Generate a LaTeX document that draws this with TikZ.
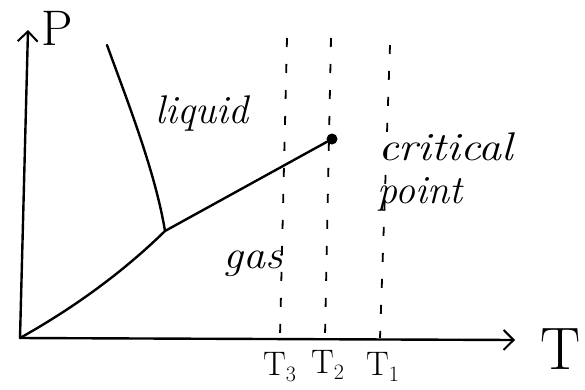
\documentclass[tikz,border=0pt]{standalone}
\usepackage{fontspec}
\usetikzlibrary{arrows.meta}
\newcommand{\tsub}[1]{\raisebox{-6pt}{\fontsize{22}{26}\selectfont #1}}
\begin{document}
\begin{tikzpicture}[x=1pt,y=-1pt,
  curve/.style={line width=2.4pt,line cap=round},
  axis/.style={line width=2.4pt,line cap=round,-{Straight Barb[length=10pt,width=20pt,line width=2pt]}},
  iso/.style={line width=1.8pt,dash pattern=on 9pt off 17pt},
  lab/.style={font=\fontsize{40}{44}\selectfont\itshape,inner sep=0pt,anchor=base west},
  tlab/.style={font=\fontsize{34}{38}\selectfont,inner sep=0pt,anchor=base west}]
\useasboundingbox (0,0) rectangle (585,389);
\coordinate (O) at (20,338);
\coordinate (Ptop) at (28,30);
\coordinate (Tend) at (515,340);
\coordinate (TP) at (165,231);
\coordinate (M) at (107,45);
\coordinate (T3a) at (287,38); \coordinate (T3b) at (280,336);
\coordinate (T2a) at (331,38); \coordinate (T2b) at (325,336);
\coordinate (T1a) at (390,45); \coordinate (T1b) at (380,338);
% axes
\draw[axis] (O) -- (Ptop);
\draw[axis] (O) -- (Tend);
% phase lines
\draw[curve] (O) .. controls (70,310) and (120,275) .. (TP);
\draw[curve] (M) .. controls (125,95) and (155,170) .. (TP);
\node[circle,fill=black,inner sep=0pt,minimum size=11pt] (C) at (332,139) {};
\draw[curve] (TP) -- (C);
% isotherms
\draw[iso] (T3a) -- (T3b);
\draw[iso] (T2a) -- (T2b);
\draw[iso] (T1a) -- (T1b);
% labels
\node[tlab,font=\fontsize{50}{54}\selectfont] (Pl) at (41,45) {P};
\node[tlab,font=\fontsize{60}{64}\selectfont] (Tl) at (540,369) {T};
\node[tlab] (T3l) at (263,375) {T\tsub{3}};
\node[tlab] (T2l) at (311,373) {T\tsub{2}};
\node[tlab] (T1l) at (366,375) {T\tsub{1}};
\node[lab] (liq) at (155,123) {liquid};
\node[lab,xscale=1.1] (gas) at (223,268) {gas};
\node[lab,xscale=1.15] (crit) at (378,160) {critical};
\node[lab] (pt) at (377,203) {point};
\end{tikzpicture}
\end{document}
